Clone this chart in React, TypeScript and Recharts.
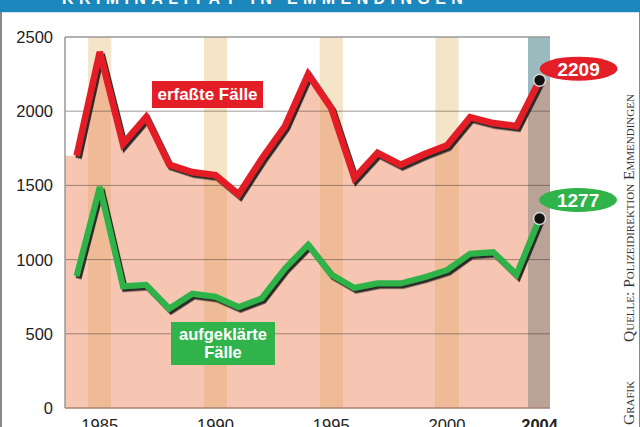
import React from 'react';
import { ComposedChart, Area, Line, XAxis, YAxis, ReferenceArea, ReferenceLine } from 'recharts';

const years = [1984, 1985, 1986, 1987, 1988, 1989, 1990, 1991, 1992, 1993, 1994, 1995, 1996, 1997, 1998, 1999, 2000, 2001, 2002, 2003, 2004];
const erfasst = [1700, 2400, 1780, 1960, 1640, 1590, 1570, 1440, 1680, 1900, 2250, 2020, 1550, 1720, 1640, 1710, 1770, 1960, 1920, 1900, 2209];
const aufgeklaert = [890, 1490, 820, 830, 670, 770, 750, 680, 740, 940, 1100, 900, 810, 840, 840, 880, 930, 1040, 1050, 900, 1277];
const yTicks = [0, 500, 1000, 1500, 2000, 2500];
const xTicks = [1985, 1990, 1995, 2000, 2004];
const bandYears = [1985, 1990, 1995, 2000];
const highlightYear = 2004;
const xDomain: [number, number] = [1983.5, 2004.45];
const areaLeftEdge = { year: 1983.5, erfasst: 1700 };
const areaRightEdge = { year: 2004.45, erfasst: 2209 };

const title = 'KRIMINALITÄT IN EMMENDINGEN';
const source = 'Quelle: Polizeidirektion Emmendingen';
const credit = 'Grafik';

const C = {
  red: '#e31e26',
  green: '#2fb34a',
  salmon: '#f7c6b2',
  bandIn: '#efbb96',
  bandOut: '#f4e4c8',
  colIn: '#b8a396',
  colOut: '#9bbabf',
  blue: '#1b87bc',
};

const data = years.map((y, i) => ({ year: y, erfasst: erfasst[i], aufgeklaert: aufgeklaert[i] }));
const areaData = [areaLeftEdge, ...data.map((d) => ({ year: d.year, erfasst: d.erfasst })), areaRightEdge];

const pct = (x: number) => (((x - xDomain[0]) / (xDomain[1] - xDomain[0])) * 100).toFixed(3) + '%';

const FONT = '"Liberation Sans", Arial, Helvetica, sans-serif';

const gradientStops: { off: string; color: string }[] = [{ off: '0%', color: C.salmon }];
bandYears.forEach((b) => {
  gradientStops.push({ off: pct(b - 0.5), color: C.salmon });
  gradientStops.push({ off: pct(b - 0.5), color: C.bandIn });
  gradientStops.push({ off: pct(b + 0.5), color: C.bandIn });
  gradientStops.push({ off: pct(b + 0.5), color: C.salmon });
});
gradientStops.push({ off: pct(highlightYear - 0.5), color: C.salmon });
gradientStops.push({ off: pct(highlightYear - 0.5), color: C.colIn });
gradientStops.push({ off: '100%', color: C.colIn });

const makeEndDot = (fill: string, dx: number, dy: number) => (props: any) => {
  const { cx, cy, index, payload } = props;
  if (index !== years.length - 1 || cx == null || cy == null) return <g key={'d' + index} />;
  const value = payload && (fill === C.red ? payload.erfasst : payload.aufgeklaert);
  return (
    <g key={'d' + index}>
      <ellipse cx={cx + dx} cy={cy + dy} rx={39} ry={12} fill={fill} />
      <text
        x={cx + dx}
        y={cy + dy}
        dy="0.36em"
        textAnchor="middle"
        fill="#fff"
        fontWeight="bold"
        fontSize={19}
        fontFamily={FONT}
      >
        {value}
      </text>
      <circle cx={cx} cy={cy} r={6} fill="#111" stroke="#d8d8d8" strokeWidth={1.5} />
    </g>
  );
};

const XTick = (props: any) => {
  const { x, y, payload } = props;
  const v = payload.value;
  return (
    <text
      x={x}
      y={y}
      dy="0.71em"
      textAnchor="middle"
      fill="#222"
      fontSize={16.5}
      fontFamily={FONT}
      fontWeight={v === highlightYear ? 'bold' : 'normal'}
    >
      {v}
    </text>
  );
};

const YTick = (props: any) => {
  const { x, y, payload } = props;
  return (
    <text x={x} y={y} dy="0.36em" textAnchor="end" fill="#222" fontSize={16.5} fontFamily={FONT}>
      {payload.value}
    </text>
  );
};

export default function App() {
  return (
    <div
      style={{
        position: 'absolute',
        left: 0,
        top: 0,
        width: 640,
        height: 427,
        overflow: 'hidden',
        background: '#fff',
        fontFamily: FONT,
      }}
    >
      <div
        style={{
          position: 'absolute',
          left: 0,
          top: 0,
          width: 640,
          height: 12,
          background: C.blue,
          overflow: 'hidden',
        }}
      >
        <div
          style={{
            position: 'absolute',
            left: 62,
            top: -9,
            fontSize: 16,
            lineHeight: '16px',
            fontWeight: 'bold',
            color: '#fff',
            letterSpacing: 5.4,
            whiteSpace: 'nowrap',
          }}
        >
          {title}
        </div>
      </div>
      <div style={{ position: 'absolute', left: 0, top: 12, width: 640, height: 1, background: '#cfe3ee' }} />
      <div style={{ position: 'absolute', left: 0, top: 12, width: 1.5, height: 415, background: '#888' }} />
      <div style={{ position: 'absolute', left: 638.5, top: 12, width: 1.5, height: 415, background: '#888' }} />

      <ComposedChart
        width={640}
        height={427}
        data={data}
        margin={{ top: 37, right: 90, bottom: 0, left: 5 }}
        style={{ position: 'absolute', left: 0, top: 0 }}
      >
        <defs>
          <linearGradient id="areaFill" x1="0" y1="0" x2="1" y2="0">
            {gradientStops.map((s, i) => (
              <stop key={i} offset={s.off} stopColor={s.color} />
            ))}
          </linearGradient>
          <filter id="lineShadow" x="-10%" y="-10%" width="120%" height="130%">
            <feDropShadow dx={2} dy={2.5} stdDeviation={0.6} floodColor="#222" floodOpacity={0.95} />
          </filter>
        </defs>
        <XAxis
          dataKey="year"
          type="number"
          domain={xDomain}
          ticks={xTicks}
          height={19}
          tickSize={0}
          tickMargin={11}
          tick={XTick}
          axisLine={{ stroke: '#a98070', strokeWidth: 1.5 }}
          tickLine={false}
          interval={0}
        />
        <YAxis
          type="number"
          domain={[0, 2500]}
          ticks={yTicks}
          width={60}
          tickSize={0}
          tickMargin={12}
          tick={YTick}
          axisLine={{ stroke: '#999', strokeWidth: 1.5 }}
          tickLine={false}
          interval={0}
        />
        {bandYears.map((b) => (
          <ReferenceArea key={'b' + b} x1={b - 0.5} x2={b + 0.5} y1={0} y2={2500} fill={C.bandOut} fillOpacity={1} stroke="none" />
        ))}
        <ReferenceArea x1={highlightYear - 0.5} x2={xDomain[1]} y1={0} y2={2500} fill={C.colOut} fillOpacity={1} stroke="none" />
        <Area
          data={areaData}
          dataKey="erfasst"
          type="linear"
          stroke="none"
          fill="url(#areaFill)"
          fillOpacity={1}
          isAnimationActive={false}
          dot={false}
          activeDot={false}
        />
        {yTicks
          .filter((t) => t > 0 && t < 2500)
          .map((t) => (
            <ReferenceLine key={'g' + t} y={t} stroke="#4a3a35" strokeOpacity={0.5} strokeWidth={1} />
          ))}
        <ReferenceLine y={2500} stroke="#999" strokeWidth={1.5} />
        <Line
          dataKey="aufgeklaert"
          type="linear"
          stroke={C.green}
          strokeWidth={6}
          filter="url(#lineShadow)"
          isAnimationActive={false}
          dot={makeEndDot(C.green, 38.5, -18.5)}
          activeDot={false}
        />
        <Line
          dataKey="erfasst"
          type="linear"
          stroke={C.red}
          strokeWidth={6.5}
          filter="url(#lineShadow)"
          isAnimationActive={false}
          dot={makeEndDot(C.red, 39, -11.5)}
          activeDot={false}
        />
      </ComposedChart>

      <div
        style={{
          position: 'absolute',
          left: 152,
          top: 81,
          width: 111,
          height: 27,
          background: C.red,
          color: '#fff',
          fontWeight: 'bold',
          fontSize: 17,
          lineHeight: '27px',
          textAlign: 'center',
          whiteSpace: 'nowrap',
        }}
      >
        erfaßte Fälle
      </div>
      <div
        style={{
          position: 'absolute',
          left: 171,
          top: 322,
          width: 104,
          height: 43,
          background: C.green,
          color: '#fff',
          fontWeight: 'bold',
          fontSize: 16.5,
          lineHeight: '17.5px',
          paddingTop: 4,
          boxSizing: 'border-box',
          textAlign: 'center',
        }}
      >
        aufgeklärte
        <br />
        Fälle
      </div>

      <svg width={640} height={427} style={{ position: 'absolute', left: 0, top: 0, pointerEvents: 'none' }}>
        <text
          transform="translate(634,342) rotate(-90)"
          fontFamily='"Liberation Serif", "DejaVu Serif", serif'
          fontSize={15.5}
          fill="#333"
          style={{ fontVariant: 'small-caps' }}
        >
          {source}
        </text>
        <text
          transform="translate(634,425) rotate(-90)"
          fontFamily='"Liberation Serif", "DejaVu Serif", serif'
          fontSize={15.5}
          fill="#333"
          style={{ fontVariant: 'small-caps' }}
        >
          {credit}
        </text>
      </svg>
    </div>
  );
}
